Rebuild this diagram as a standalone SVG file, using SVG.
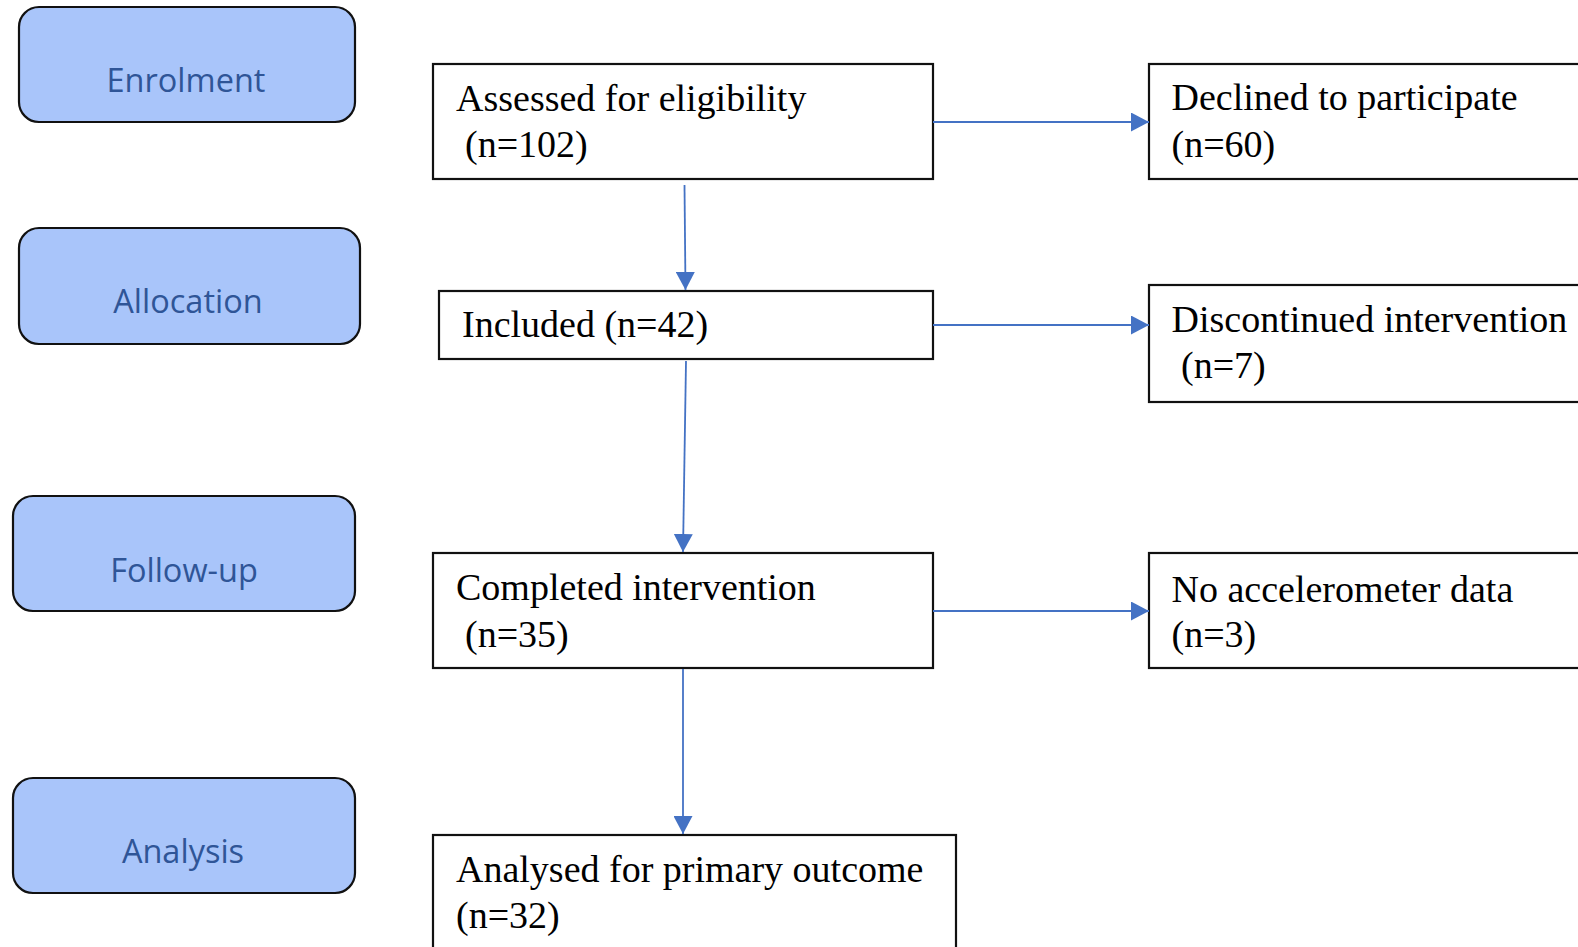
<svg xmlns="http://www.w3.org/2000/svg" width="1578" height="947" viewBox="0 0 1578 947">
<style>
.phase rect{fill:#A9C5FA;stroke:#111;stroke-width:2.2}
.phase text{font-family:"Open Sans","Noto Sans",sans-serif;font-size:32.5px;fill:#2F5597;text-anchor:middle}
.box rect{fill:#fff;stroke:#111;stroke-width:2.2}
.box text{font-family:"Liberation Serif","Times New Roman",serif;font-size:38px;fill:#000}
.conn line{stroke:#4472C4;stroke-width:1.8;fill:none}
</style>
<defs>
<marker id="ah" viewBox="0 0 18 19" refX="18" refY="9.5" markerWidth="18" markerHeight="19" markerUnits="userSpaceOnUse" orient="auto">
<path d="M0,0 L18,9.5 L0,19 Z" fill="#4472C4"/>
</marker>
</defs>
<rect width="1578" height="947" fill="#fff"/>
<g id="phase-enrolment" class="phase"><rect x="19" y="7" width="336" height="115" rx="20"/><text x="186" y="92">Enrolment</text></g>
<g id="phase-allocation" class="phase"><rect x="19" y="228" width="341" height="116" rx="20"/><text x="188" y="313">Allocation</text></g>
<g id="phase-followup" class="phase"><rect x="13" y="496" width="342" height="115" rx="20"/><text x="184" y="582">Follow-up</text></g>
<g id="phase-analysis" class="phase"><rect x="13" y="778" width="342" height="115" rx="20"/><text x="183" y="863">Analysis</text></g>

<g id="assessed" class="box"><rect x="433" y="64" width="500" height="115"/><text x="456" y="111">Assessed for eligibility</text><text x="465" y="157">(n=102)</text></g>
<g id="declined" class="box"><rect x="1149" y="64" width="500" height="115"/><text x="1171.5" y="110">Declined to participate</text><text x="1171.5" y="157">(n=60)</text></g>
<g id="included" class="box"><rect x="439" y="291" width="494" height="68"/><text x="462" y="337">Included (n=42)</text></g>
<g id="discontinued" class="box"><rect x="1149" y="285" width="500" height="117"/><text x="1171.5" y="332">Discontinued intervention</text><text x="1181" y="378">(n=7)</text></g>
<g id="completed" class="box"><rect x="433" y="553" width="500" height="115"/><text x="456" y="600">Completed intervention</text><text x="465" y="647">(n=35)</text></g>
<g id="noaccel" class="box"><rect x="1149" y="553" width="500" height="115"/><text x="1171.5" y="602">No accelerometer data</text><text x="1171.5" y="647">(n=3)</text></g>
<g id="analysed" class="box"><rect x="433" y="835" width="523" height="130"/><text x="456" y="882">Analysed for primary outcome</text><text x="456" y="928">(n=32)</text></g>

<g id="connectors" class="conn">
<line x1="933" y1="122" x2="1149" y2="122" marker-end="url(#ah)"/>
<line x1="933" y1="325" x2="1149" y2="325" marker-end="url(#ah)"/>
<line x1="933" y1="611" x2="1149" y2="611" marker-end="url(#ah)"/>
<line x1="684.5" y1="185" x2="685.5" y2="290" marker-end="url(#ah)"/>
<line x1="686" y1="361" x2="683" y2="552" marker-end="url(#ah)"/>
<line x1="683" y1="669" x2="683" y2="834" marker-end="url(#ah)"/>
</g>
</svg>
